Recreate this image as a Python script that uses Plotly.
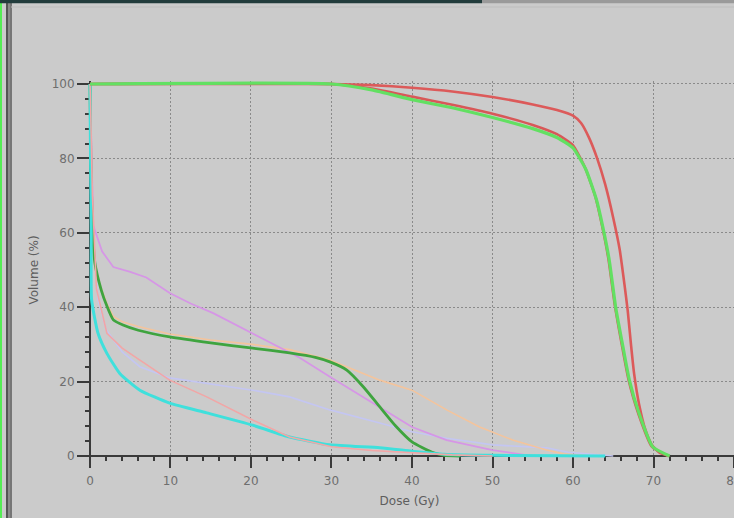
import plotly.graph_objects as go

# ---------------- data ----------------
x_tick_vals = [0, 10, 20, 30, 40, 50, 60, 70, 80]
y_tick_vals = [0, 20, 40, 60, 80, 100]

# target (PTV) curves
ptv_green_dose = [0, 30, 35, 40, 45, 50, 55, 58, 60, 61.6, 62.9, 63.7, 64.5, 65.3, 66.2, 67, 68.2, 69.9, 72]
ptv_green_vol = [100, 100, 98.4, 95.8, 93.6, 91.0, 88.0, 85.6, 82.8, 77, 69, 61.6, 52.7, 40, 29.4, 20.4, 11.5, 2.5, 0]

ptv_red_low_dose = [0, 30, 35, 40, 45, 50, 55, 58, 60, 61.5, 62.8, 63.6, 64.4, 65.2, 66.1, 66.9, 68.1, 69.8, 71.8]
ptv_red_low_vol = [100, 100, 98.8, 96.6, 94.4, 92.0, 89.0, 86.5, 83.5, 77.5, 69.5, 62, 53, 40.5, 29.5, 20.5, 11.5, 2.5, 0]

ptv_red_high_dose = [0, 30, 35, 40, 45, 50, 55, 58, 60, 61, 62, 63, 64, 65, 65.8, 66.4, 66.8, 67.2, 67.6, 68.2, 69, 69.8, 70.7, 72]
ptv_red_high_vol = [100, 100, 99.7, 99, 98, 96.5, 94.5, 93, 91.5, 89.5, 85.5, 80, 73, 64, 55.5, 46, 39, 30, 22, 14, 7, 3, 1, 0]

# organ-at-risk curves
oar_darkgreen_dose = [0, 0.1, 0.3, 0.6, 1.4, 2.1, 2.9, 4.1, 6, 9.9, 15, 20.2, 24.8, 28, 29.8, 31.9, 34, 36, 38, 40, 42.5, 44, 46]
oar_darkgreen_vol = [100, 80, 62, 52, 44.6, 40.3, 36.6, 35.2, 33.8, 32, 30.4, 29, 27.7, 26.5, 25.3, 23.1, 18.5, 13.2, 8, 3.8, 1, 0.2, 0]

oar_orange_dose = [0, 0.1, 0.3, 0.6, 1.4, 2.1, 2.9, 4.1, 6, 9.9, 15, 20.2, 24.8, 29.8, 33, 36, 40, 44.3, 48.4, 52.5, 56.7, 59, 62]
oar_orange_vol = [100, 90, 70, 51, 45, 41, 37.5, 36, 34.8, 32.8, 31.2, 30, 28.6, 25.8, 23, 20.4, 17.7, 12.4, 7.8, 4.3, 1.6, 0.5, 0]

oar_purple_dose = [0, 0.1, 0.4, 1.5, 2.9, 5, 7, 9.9, 12.5, 15.3, 20.2, 23.6, 26, 29.8, 33, 36, 40, 44.3, 50, 55]
oar_purple_vol = [100, 88, 62, 55, 50.8, 49.5, 48, 43.8, 41, 38.4, 33, 29.3, 26.5, 21.3, 17, 13.2, 7.8, 4.3, 1.6, 0]

oar_pink_dose = [0, 0.05, 0.3, 0.8, 2.1, 4, 6.2, 9.9, 14.5, 20.2, 24.8, 30, 35, 40, 45, 50]
oar_pink_vol = [100, 97, 70, 45, 33, 29, 25.8, 20.4, 15.9, 9.7, 5.1, 2.5, 1.5, 0.8, 0.3, 0]

oar_lavender_dose = [0, 0.1, 0.4, 1, 2, 4, 6.2, 9.9, 14.5, 20.2, 24.8, 29.8, 36, 40, 44.3, 50, 56.7, 59.4, 65]
oar_lavender_vol = [100, 90, 60, 42, 34, 28, 24, 21, 19.6, 17.7, 15.9, 12.4, 8.9, 6.5, 4.8, 3, 2.2, 1, 0]

oar_cyan_dose = [0, 0.05, 0.15, 0.2, 1.0, 2.1, 3.7, 6.2, 9.9, 14.5, 20.2, 24.8, 29.8, 36, 40, 44, 50, 64]
oar_cyan_vol = [100, 85, 60, 42, 33, 27.6, 22.2, 17.7, 14.2, 11.6, 8.3, 5.1, 3, 2.2, 1.3, 0.5, 0.2, 0]

# ---------------- figure ----------------
W, H = 734, 518
ML, MR, MT, MB = 85, 0, 81, 59
X_RANGE = [-0.62, 80]
Y_RANGE = [-0.8, 100.8]
x_axis_pos = (0 - Y_RANGE[0]) / (Y_RANGE[1] - Y_RANGE[0])   # x axis sits on volume 0
y_axis_pos = (0 - X_RANGE[0]) / (X_RANGE[1] - X_RANGE[0])   # y axis sits on dose 0

curves = [
    (oar_lavender_dose, oar_lavender_vol, "#c4c6f2", 1.6, "linear"),
    (oar_orange_dose, oar_orange_vol, "#f4c49c", 1.6, "linear"),
    (oar_purple_dose, oar_purple_vol, "#d696e6", 1.8, "linear"),
    (oar_darkgreen_dose, oar_darkgreen_vol, "#3fa43f", 2.8, "spline"),
    (oar_cyan_dose, oar_cyan_vol, "#3fe0dc", 3.0, "spline"),
    (oar_pink_dose, oar_pink_vol, "#f2a6a6", 1.6, "linear"),
    (ptv_red_high_dose, ptv_red_high_vol, "#dc5a5a", 2.6, "spline"),
    (ptv_red_low_dose, ptv_red_low_vol, "#d85858", 2.6, "spline"),
    (ptv_green_dose, ptv_green_vol, "#62e062", 3.2, "spline"),
]

fig = go.Figure()
for d, v, c, w, shp in curves:
    line = dict(color=c, width=w, shape=shp)
    if shp == "spline":
        line["smoothing"] = 0.5
    fig.add_trace(go.Scatter(x=d, y=v, mode="lines", line=line,
                             cliponaxis=False, showlegend=False, hoverinfo="skip"))

FONT = "DejaVu Sans, Liberation Sans, Arial, sans-serif"
font_tick = dict(family=FONT, size=12, color="#6e6e6e")
font_title = dict(family=FONT, size=12, color="#5e5e5e")
axis_col = "#3a3a3a"
grid_col = "#8a8a8a"
grid_dash = "2px,2px"

fig.update_layout(
    width=W, height=H,
    margin=dict(l=ML, r=MR, t=MT, b=MB, pad=0),
    paper_bgcolor="#cbcbcb",
    plot_bgcolor="#cbcbcb",
    showlegend=False,
    xaxis=dict(
        range=X_RANGE, tickvals=x_tick_vals, ticktext=[str(t) for t in x_tick_vals],
        anchor="free", position=x_axis_pos,
        showgrid=True, gridcolor=grid_col, griddash=grid_dash, gridwidth=1,
        zeroline=False, showline=True, linecolor=axis_col, linewidth=2,
        ticks="outside", ticklen=11, tickwidth=2, tickcolor=axis_col,
        minor=dict(dtick=2, ticks="outside", ticklen=4, tickwidth=1.5, tickcolor=axis_col, showgrid=False),
        tickfont=font_tick, layer="below traces", automargin=False, ticklabelstandoff=3,
        ticklabeloverflow="allow",
        title=dict(text="Dose (Gy)", font=font_title, standoff=8),
        fixedrange=True,
    ),
    yaxis=dict(
        range=Y_RANGE, tickvals=y_tick_vals, ticktext=[str(t) for t in y_tick_vals],
        anchor="free", position=y_axis_pos,
        showgrid=True, gridcolor=grid_col, griddash=grid_dash, gridwidth=1,
        zeroline=False, showline=True, linecolor=axis_col, linewidth=2,
        ticks="outside", ticklen=12, tickwidth=1.5, tickcolor=axis_col,
        minor=dict(dtick=4, ticks="outside", ticklen=4, tickwidth=1.5, tickcolor=axis_col, showgrid=False),
        tickfont=font_tick, layer="below traces", automargin=False,
        title=dict(text="Volume (%)", font=font_title, standoff=9),
        fixedrange=True,
    ),
    xaxis2=dict(
        overlaying="x", matches="x", anchor="free", position=x_axis_pos, side="bottom", range=X_RANGE,
        tickvals=x_tick_vals, showticklabels=False, showgrid=False, zeroline=False, showline=False,
        ticks="inside", ticklen=10, tickwidth=2, tickcolor=axis_col,
        minor=dict(dtick=2, ticks="inside", ticklen=4, tickwidth=1.5, tickcolor=axis_col, showgrid=False),
        layer="below traces",
    ),
    yaxis2=dict(
        overlaying="y", matches="y", anchor="free", position=y_axis_pos, side="left", range=Y_RANGE,
        tickvals=y_tick_vals, showticklabels=False, showgrid=False, zeroline=False, showline=False,
        ticks="inside", ticklen=10, tickwidth=1.5, tickcolor=axis_col,
        minor=dict(dtick=4, ticks="inside", ticklen=4, tickwidth=1.5, tickcolor=axis_col, showgrid=False),
        layer="below traces",
    ),
)

# decorative window borders (pixel -> paper helpers)
pw = W - ML - MR
ph = H - MT - MB
def px(x):
    return (x - ML) / pw
def py(y):
    return 1 - (y - MT) / ph

shapes = [
    dict(type="line", xref="paper", yref="paper", x0=px(1), x1=px(1), y0=py(0), y1=py(H), line=dict(color="#55ee55", width=2)),
    dict(type="line", xref="paper", yref="paper", x0=px(7), x1=px(7), y0=py(3), y1=py(H), line=dict(color="#555555", width=2)),
    dict(type="line", xref="paper", yref="paper", x0=px(9), x1=px(9), y0=py(3), y1=py(H), line=dict(color="#8a8a8a", width=2)),
    dict(type="line", xref="paper", yref="paper", x0=px(11), x1=px(11), y0=py(3), y1=py(H), line=dict(color="#5a5a5a", width=1.5)),
    dict(type="line", xref="paper", yref="paper", x0=px(0), x1=px(482), y0=py(1.5), y1=py(1.5), line=dict(color="#223c3c", width=3.5)),
    dict(type="line", xref="paper", yref="paper", x0=px(482), x1=px(W), y0=py(1.5), y1=py(1.5), line=dict(color="#9a9a9a", width=3.5)),
    dict(type="line", xref="paper", yref="paper", x0=px(11), x1=px(W), y0=py(7), y1=py(7), line=dict(color="#bdbdbd", width=1)),
]
fig.update_layout(shapes=shapes)

fig.write_html(
    "out.html",
    config={"displayModeBar": False},
    post_script="document.body.style.margin='0';document.body.style.overflow='hidden';document.body.style.background='#cbcbcb';",
)
